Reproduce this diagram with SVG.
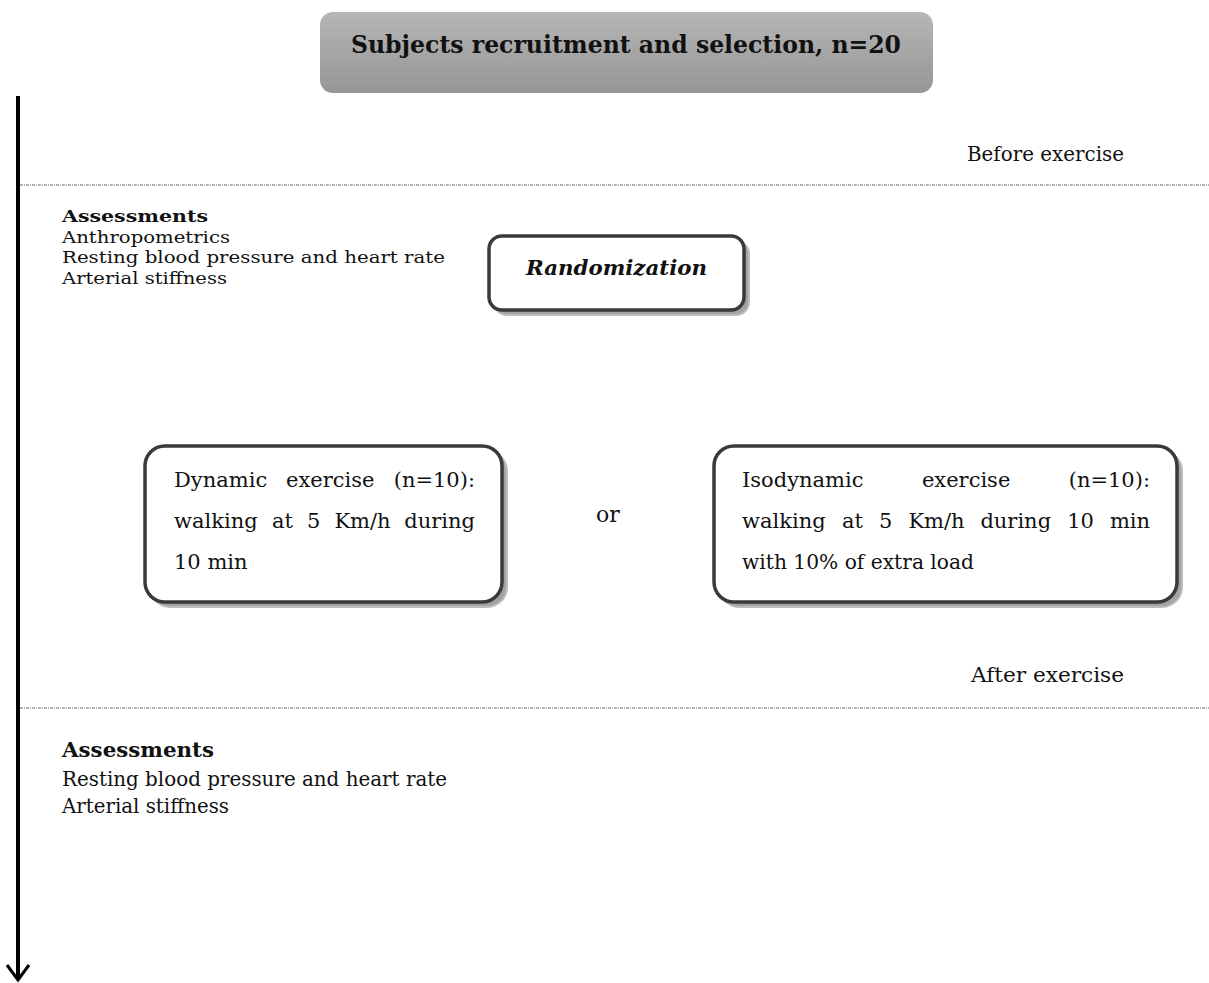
<svg xmlns="http://www.w3.org/2000/svg" width="1209" height="983" viewBox="0 0 1209 983">
<defs>
<linearGradient id="gTitle" x1="0" y1="0" x2="0" y2="1">
<stop offset="0" stop-color="#b6b6b6"/>
<stop offset="1" stop-color="#969696"/>
</linearGradient>
<style>
text{font-family:"DejaVu Serif","Liberation Serif",serif;fill:#111;}
.title{font-size:24px;font-weight:bold;}
.lbl{font-size:19.5px;}
.sm{font-size:17.5px;}
.hd{font-size:19.5px;font-weight:bold;}
.hds{font-size:17.5px;font-weight:bold;}
.bx{font-size:21px;}
.or{font-size:22px;}
.rnd{font-size:21px;font-weight:bold;font-style:italic;}
.box{fill:#fff;stroke:#3a3a3a;stroke-width:3.5;}
.shadow{fill:#a3a3a3;stroke:#bdbdbd;stroke-width:2;}
.dots{stroke:#666;stroke-width:1;stroke-dasharray:3 1 1 1;fill:none;}
</style>
</defs>
<rect width="1209" height="983" fill="#fff"/>

<g id="title">
<rect x="320" y="12" width="613" height="81" rx="13" fill="url(#gTitle)"/>
<text class="title" x="351" y="53" textLength="550" lengthAdjust="spacingAndGlyphs">Subjects recruitment and selection, n=20</text>
</g>

<g id="connectors">
<line x1="18" y1="96" x2="18" y2="979" stroke="#000" stroke-width="4"/>
<polyline points="7,965 18,980 29,965" fill="none" stroke="#000" stroke-width="3"/>
<line class="dots" x1="20" y1="185" x2="1209" y2="185"/>
<line class="dots" x1="20" y1="708" x2="1209" y2="708"/>
</g>

<g id="before-label">
<text class="lbl" x="967" y="161" textLength="157" lengthAdjust="spacingAndGlyphs">Before exercise</text>
</g>

<g id="assessments-before">
<text class="hds" x="62" y="222" textLength="146" lengthAdjust="spacingAndGlyphs">Assessments</text>
<text class="sm" x="62" y="242.5" textLength="168" lengthAdjust="spacingAndGlyphs">Anthropometrics</text>
<text class="sm" x="62" y="263" textLength="383" lengthAdjust="spacingAndGlyphs">Resting blood pressure and heart rate</text>
<text class="sm" x="62" y="283.5" textLength="165" lengthAdjust="spacingAndGlyphs">Arterial stiffness</text>
</g>

<g id="randomization">
<rect class="shadow" x="494" y="241" width="255" height="74" rx="13"/>
<rect class="box" x="489" y="236" width="255" height="74" rx="13"/>
<text class="rnd" x="526" y="275" textLength="181" lengthAdjust="spacingAndGlyphs">Randomization</text>
</g>

<g id="dynamic">
<rect class="shadow" x="150" y="451" width="357" height="156" rx="20"/>
<rect class="box" x="145" y="446" width="357" height="156" rx="20"/>
<text class="bx" y="487"><tspan x="174">Dynamic</tspan><tspan x="286">exercise</tspan><tspan x="393.7">(n=10):</tspan></text>
<text class="bx" y="528"><tspan x="174">walking</tspan><tspan x="271.9">at</tspan><tspan x="306.9">5</tspan><tspan x="334.4">Km/h</tspan><tspan x="404.3">during</tspan></text>
<text class="bx" x="174" y="569">10 min</text>
</g>

<g id="or-label">
<text class="or" x="596" y="522">or</text>
</g>

<g id="isodynamic">
<rect class="shadow" x="719" y="451" width="463" height="156" rx="20"/>
<rect class="box" x="714" y="446" width="463" height="156" rx="20"/>
<text class="bx" y="487"><tspan x="742">Isodynamic</tspan><tspan x="921.9">exercise</tspan><tspan x="1068.7">(n=10):</tspan></text>
<text class="bx" y="528"><tspan x="742">walking</tspan><tspan x="841.9">at</tspan><tspan x="878.9">5</tspan><tspan x="908.4">Km/h</tspan><tspan x="980.4">during</tspan><tspan x="1067.2">10</tspan><tspan x="1109.9">min</tspan></text>
<text class="bx" x="742" y="569" textLength="232" lengthAdjust="spacingAndGlyphs">with 10% of extra load</text>
</g>

<g id="after-label">
<text class="lbl" x="971" y="682" textLength="153" lengthAdjust="spacingAndGlyphs">After exercise</text>
</g>

<g id="assessments-after">
<text class="hd" x="62" y="757" textLength="152" lengthAdjust="spacingAndGlyphs">Assessments</text>
<text class="lbl" x="62" y="786" textLength="385" lengthAdjust="spacingAndGlyphs">Resting blood pressure and heart rate</text>
<text class="lbl" x="62" y="813" textLength="167" lengthAdjust="spacingAndGlyphs">Arterial stiffness</text>
</g>
</svg>
